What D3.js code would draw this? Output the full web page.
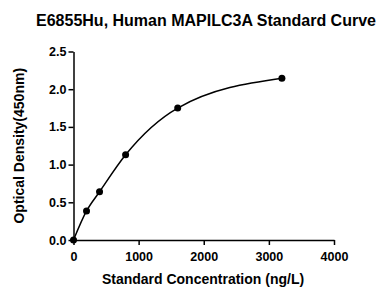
<!DOCTYPE html>
<html>
<head>
<meta charset="utf-8">
<script src="https://cdn.jsdelivr.net/npm/d3@7"></script>
<style>
  body { margin: 0; background: #fff; }
  svg text { font-family: "Liberation Sans", Arial, sans-serif; font-weight: bold; fill: #000; }
</style>
</head>
<body>
<svg id="chart" width="383" height="289"></svg>
<script>
// standard points
const concentrations = [0, 200, 400, 800, 1600, 3200];
const densities = [0.0, 0.385, 0.64, 1.13, 1.75, 2.145];
const xTicks = [0, 1000, 2000, 3000, 4000];
const yTicks = [0, 0.5, 1.0, 1.5, 2.0, 2.5];

const W = 383, H = 289;
const margin = { left: 73.5, right: 49, top: 51.5, bottom: 49 };

const svg = d3.select('#chart');

const x = d3.scaleLinear().domain([0, 4000]).range([margin.left, W - margin.right]);
const y = d3.scaleLinear().domain([0, 2.5]).range([H - margin.bottom, margin.top]);

const points = concentrations.map((c, i) => ({ c, od: densities[i] }));

// title
svg.append('text')
  .attr('x', 206).attr('y', 26)
  .attr('text-anchor', 'middle')
  .style('font-size', '16px')
  .text('E6855Hu, Human MAPILC3A Standard Curve');

// axes
const xAxis = svg.append('g')
  .attr('transform', `translate(0,${y(0)})`)
  .call(d3.axisBottom(x).tickValues(xTicks).tickFormat(d3.format('d')).tickSize(5).tickSizeOuter(0));

const yAxis = svg.append('g')
  .attr('transform', `translate(${x(0)},0)`)
  .call(d3.axisLeft(y).tickValues(yTicks).tickFormat(d3.format('.1f')).tickSize(5).tickSizeOuter(0));

[xAxis, yAxis].forEach(a => {
  a.select('.domain').attr('stroke', '#000').attr('stroke-width', 1.5);
  a.selectAll('.tick line').attr('stroke', '#000').attr('stroke-width', 1.5);
  a.selectAll('.tick text').style('font-size', '12.5px').attr('fill', '#000');
});
xAxis.selectAll('.tick text').attr('dy', '1.05em');
yAxis.selectAll('.tick text').attr('x', -7);

// axis labels
svg.append('text')
  .attr('x', 203).attr('y', 284)
  .attr('text-anchor', 'middle')
  .style('font-size', '14px')
  .text('Standard Concentration (ng/L)');

svg.append('text')
  .attr('transform', `translate(24,${(y(0) + y(2.5)) / 2}) rotate(-90)`)
  .attr('text-anchor', 'middle')
  .style('font-size', '14px')
  .text('Optical Density(450nm)');

// fitted curve through the standards
const line = d3.line()
  .x(d => x(d.c))
  .y(d => y(d.od))
  .curve(d3.curveMonotoneX);

svg.append('path')
  .datum(points)
  .attr('fill', 'none')
  .attr('stroke', '#000')
  .attr('stroke-width', 1.5)
  .attr('d', line);

svg.selectAll('circle.pt')
  .data(points)
  .enter()
  .append('circle')
  .attr('class', 'pt')
  .attr('cx', d => x(d.c))
  .attr('cy', d => y(d.od))
  .attr('r', 3.5)
  .attr('fill', '#000');
</script>
</body>
</html>
